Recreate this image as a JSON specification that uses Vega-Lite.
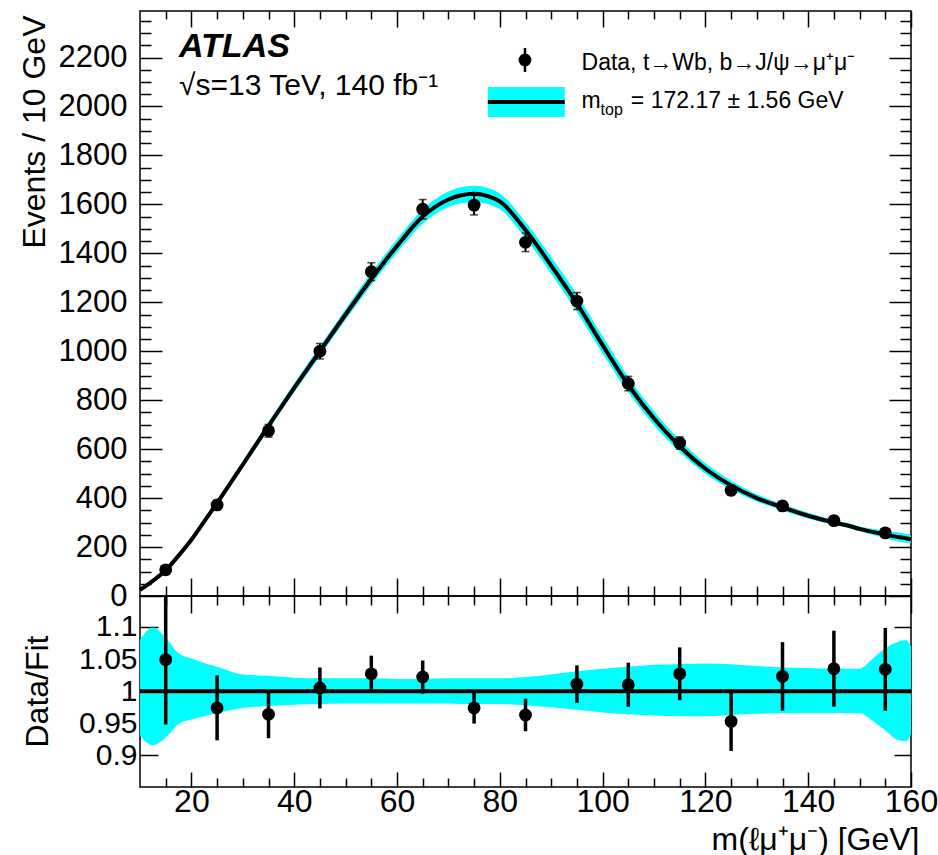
{
  "$schema": "https://vega.github.io/schema/vega-lite/v6.json",
  "padding": {"left": 17, "top": 4, "right": 5, "bottom": 12},
  "background": "white",
  "spacing": 0,
  "bounds": "flush",
  "config": {
    "font": "Liberation Sans",
    "view": {"stroke": "black", "strokeWidth": 1.5},
    "axis": {
      "labelFont": "Liberation Sans", "labelFontSize": 32, "labelColor": "black",
      "titleFont": "Liberation Sans", "titleFontSize": 32, "titleFontWeight": "normal", "titleColor": "black",
      "tickColor": "black", "tickWidth": 1.5, "domain": false, "grid": false,
      "labelFlush": false, "labelOverlap": false, "labelBound": false
    }
  },
  "datasets": {
    "pts": [
      {"x": 15, "n": 107, "nlo": 96.7, "nhi": 117.3, "r": 1.049, "elo": 0.948, "ehi": 1.150},
      {"x": 25, "n": 372, "nlo": 352.7, "nhi": 391.3, "r": 0.974, "elo": 0.9235, "ehi": 1.0245},
      {"x": 35, "n": 675, "nlo": 649, "nhi": 701, "r": 0.964, "elo": 0.9269, "ehi": 1.0011},
      {"x": 45, "n": 1000, "nlo": 968.4, "nhi": 1031.6, "r": 1.005, "elo": 0.9732, "ehi": 1.0368},
      {"x": 55, "n": 1325, "nlo": 1288.6, "nhi": 1361.4, "r": 1.027, "elo": 0.9988, "ehi": 1.0552},
      {"x": 65, "n": 1580, "nlo": 1540.3, "nhi": 1619.7, "r": 1.022, "elo": 0.9963, "ehi": 1.0477},
      {"x": 75, "n": 1597, "nlo": 1557, "nhi": 1637, "r": 0.974, "elo": 0.9496, "ehi": 0.9984},
      {"x": 85, "n": 1445, "nlo": 1407, "nhi": 1483, "r": 0.963, "elo": 0.9377, "ehi": 0.9883},
      {"x": 95, "n": 1205, "nlo": 1170.3, "nhi": 1239.7, "r": 1.011, "elo": 0.9819, "ehi": 1.0401},
      {"x": 105, "n": 868, "nlo": 838.5, "nhi": 897.5, "r": 1.010, "elo": 0.9757, "ehi": 1.0443},
      {"x": 115, "n": 625, "nlo": 600, "nhi": 650, "r": 1.027, "elo": 0.9859, "ehi": 1.0681},
      {"x": 125, "n": 432, "nlo": 411.2, "nhi": 452.8, "r": 0.953, "elo": 0.9071, "ehi": 0.9989},
      {"x": 135, "n": 368, "nlo": 348.8, "nhi": 387.2, "r": 1.023, "elo": 0.9697, "ehi": 1.0763},
      {"x": 145, "n": 308, "nlo": 290.5, "nhi": 325.5, "r": 1.035, "elo": 0.976, "ehi": 1.094},
      {"x": 155, "n": 258, "nlo": 241.9, "nhi": 274.1, "r": 1.034, "elo": 0.9696, "ehi": 1.0984}
    ],
    "fit": [
      {"x": 10, "fit": 25, "flo": 23.3, "fhi": 27.0, "blo": 0.931, "bhi": 1.080},
      {"x": 12.5, "fit": 62, "flo": 56.8, "fhi": 68.1, "blo": 0.916, "bhi": 1.099},
      {"x": 15, "fit": 105, "flo": 97.4, "fhi": 113.7, "blo": 0.928, "bhi": 1.083},
      {"x": 17.5, "fit": 165, "flo": 156.6, "fhi": 174.7, "blo": 0.949, "bhi": 1.059},
      {"x": 20, "fit": 230, "flo": 219.9, "fhi": 241.7, "blo": 0.956, "bhi": 1.051},
      {"x": 22.5, "fit": 305, "flo": 293.1, "fhi": 318.4, "blo": 0.961, "bhi": 1.044},
      {"x": 25, "fit": 380, "flo": 367.1, "fhi": 394.4, "blo": 0.966, "bhi": 1.038},
      {"x": 30, "fit": 537, "flo": 523.0, "fhi": 551.0, "blo": 0.974, "bhi": 1.026},
      {"x": 35, "fit": 695, "flo": 679.0, "fhi": 711.7, "blo": 0.977, "bhi": 1.024},
      {"x": 40, "fit": 850, "flo": 832.2, "fhi": 867.9, "blo": 0.979, "bhi": 1.021},
      {"x": 45, "fit": 1000, "flo": 980, "fhi": 1020, "blo": 0.980, "bhi": 1.020},
      {"x": 50, "fit": 1150, "flo": 1128.2, "fhi": 1173.0, "blo": 0.981, "bhi": 1.020},
      {"x": 55, "fit": 1295, "flo": 1270.4, "fhi": 1320.9, "blo": 0.981, "bhi": 1.020},
      {"x": 60, "fit": 1430, "flo": 1402.8, "fhi": 1457.2, "blo": 0.981, "bhi": 1.019},
      {"x": 65, "fit": 1550, "flo": 1520.6, "fhi": 1579.5, "blo": 0.981, "bhi": 1.019},
      {"x": 70, "fit": 1620, "flo": 1589.2, "fhi": 1652.4, "blo": 0.981, "bhi": 1.020},
      {"x": 72.5, "fit": 1637, "flo": 1604.3, "fhi": 1669.7, "blo": 0.980, "bhi": 1.020},
      {"x": 75, "fit": 1643, "flo": 1610.1, "fhi": 1675.9, "blo": 0.980, "bhi": 1.020},
      {"x": 77.5, "fit": 1635, "flo": 1602.3, "fhi": 1667.7, "blo": 0.980, "bhi": 1.020},
      {"x": 80, "fit": 1612, "flo": 1579.8, "fhi": 1644.2, "blo": 0.980, "bhi": 1.020},
      {"x": 85, "fit": 1495, "flo": 1462.1, "fhi": 1527.9, "blo": 0.978, "bhi": 1.022},
      {"x": 90, "fit": 1350, "flo": 1316.3, "fhi": 1385.1, "blo": 0.975, "bhi": 1.026},
      {"x": 95, "fit": 1195, "flo": 1160.3, "fhi": 1232.0, "blo": 0.971, "bhi": 1.031},
      {"x": 100, "fit": 1025, "flo": 991.2, "fhi": 1060.9, "blo": 0.967, "bhi": 1.035},
      {"x": 105, "fit": 862, "flo": 831.0, "fhi": 894.8, "blo": 0.964, "bhi": 1.038},
      {"x": 110, "fit": 725, "flo": 697.5, "fhi": 754.7, "blo": 0.962, "bhi": 1.041},
      {"x": 115, "fit": 612, "flo": 588.1, "fhi": 637.7, "blo": 0.961, "bhi": 1.042},
      {"x": 120, "fit": 520, "flo": 499.7, "fhi": 542.4, "blo": 0.961, "bhi": 1.043},
      {"x": 125, "fit": 452, "flo": 435.3, "fhi": 471.0, "blo": 0.963, "bhi": 1.042},
      {"x": 130, "fit": 400, "flo": 386.0, "fhi": 415.6, "blo": 0.965, "bhi": 1.039},
      {"x": 135, "fit": 362, "flo": 349.7, "fhi": 375.4, "blo": 0.966, "bhi": 1.037},
      {"x": 140, "fit": 328, "flo": 316.8, "fhi": 339.8, "blo": 0.966, "bhi": 1.036},
      {"x": 145, "fit": 300, "flo": 289.8, "fhi": 310.5, "blo": 0.966, "bhi": 1.035},
      {"x": 148, "fit": 286, "flo": 276.3, "fhi": 296.0, "blo": 0.966, "bhi": 1.035},
      {"x": 150, "fit": 274, "flo": 264.7, "fhi": 283.6, "blo": 0.966, "bhi": 1.035},
      {"x": 152.5, "fit": 262, "flo": 249.9, "fhi": 275.1, "blo": 0.954, "bhi": 1.050},
      {"x": 155, "fit": 251, "flo": 235.7, "fhi": 267.8, "blo": 0.939, "bhi": 1.067},
      {"x": 157.5, "fit": 241, "flo": 222.7, "fhi": 259.6, "blo": 0.924, "bhi": 1.077},
      {"x": 159, "fit": 236, "flo": 217.6, "fhi": 254.6, "blo": 0.922, "bhi": 1.079},
      {"x": 160, "fit": 232, "flo": 216.5, "fhi": 248.2, "blo": 0.933, "bhi": 1.070}
    ]
  },
  "vconcat": [
    {
      "width": 771,
      "height": 585,
      "resolve": {"axis": {"x": "independent", "y": "independent"}},
      "layer": [
        {
          "data": {"name": "fit"},
          "mark": {"type": "area", "color": "#00ffff", "opacity": 1, "interpolate": "monotone"},
          "encoding": {
            "x": {"field": "x", "type": "quantitative", "scale": {"domain": [10, 160], "nice": false, "zero": false},
              "axis": {"orient": "bottom", "labels": false, "title": null,
                "values": [15,20,25,30,35,40,45,50,55,60,65,70,75,80,85,90,95,100,105,110,115,120,125,130,135,140,145,150,155,160],
                "tickSize": {"condition": {"test": "datum.value % 20 === 0", "value": -18}, "value": -10}}},
            "y": {"field": "flo", "type": "quantitative", "scale": {"domain": [0, 2390], "nice": false, "zero": false},
              "axis": {"orient": "left",
                "values": [0,50,100,150,200,250,300,350,400,450,500,550,600,650,700,750,800,850,900,950,1000,1050,1100,1150,1200,1250,1300,1350,1400,1450,1500,1550,1600,1650,1700,1750,1800,1850,1900,1950,2000,2050,2100,2150,2200,2250,2300,2350],
                "labelExpr": "datum.value % 200 === 0 ? '' + datum.value : ''",
                "labelPadding": 35, "labelFontSize": 31,
                "tickSize": {"condition": {"test": "datum.value % 200 === 0", "value": -22}, "value": -11},
                "title": "Events / 10 GeV", "titleAngle": 270, "titleAlign": "right", "titleBaseline": "alphabetic",
                "titleX": -96, "titleY": 4}},
            "y2": {"field": "fhi"}
          }
        },
        {
          "data": {"name": "fit"},
          "mark": {"type": "line", "color": "black", "strokeWidth": 4, "interpolate": "monotone"},
          "encoding": {
            "x": {"field": "x", "type": "quantitative",
              "axis": {"orient": "top", "labels": false, "title": null,
                "values": [15,20,25,30,35,40,45,50,55,60,65,70,75,80,85,90,95,100,105,110,115,120,125,130,135,140,145,150,155,160],
                "tickSize": {"condition": {"test": "datum.value % 20 === 0", "value": -16}, "value": -8}}},
            "y": {"field": "fit", "type": "quantitative",
              "axis": {"orient": "right", "labels": false, "title": null,
                "values": [0,50,100,150,200,250,300,350,400,450,500,550,600,650,700,750,800,850,900,950,1000,1050,1100,1150,1200,1250,1300,1350,1400,1450,1500,1550,1600,1650,1700,1750,1800,1850,1900,1950,2000,2050,2100,2150,2200,2250,2300,2350],
                "tickSize": {"condition": {"test": "datum.value % 200 === 0", "value": -22}, "value": -11}}}
          }
        },
        {
          "data": {"name": "pts"},
          "mark": {"type": "errorbar", "color": "black", "thickness": 2, "ticks": {"size": 8, "color": "black", "thickness": 1.5}},
          "encoding": {
            "x": {"field": "x", "type": "quantitative", "axis": null},
            "y": {"field": "nlo", "type": "quantitative", "axis": null},
            "y2": {"field": "nhi"}
          }
        },
        {
          "data": {"name": "pts"},
          "mark": {"type": "point", "shape": "circle", "filled": true, "size": 165, "color": "black", "opacity": 1},
          "encoding": {
            "x": {"field": "x", "type": "quantitative", "axis": null},
            "y": {"field": "n", "type": "quantitative", "axis": null}
          }
        },
        {
          "data": {"values": [{}]},
          "mark": {"type": "text", "text": "ATLAS", "font": "Liberation Sans", "fontSize": 34, "fontWeight": "bold", "fontStyle": "italic", "align": "left", "baseline": "alphabetic", "color": "black"},
          "encoding": {
            "x": {"datum": 17.6, "type": "quantitative", "axis": null},
            "y": {"datum": 2202, "type": "quantitative", "axis": null}
          }
        },
        {
          "data": {"values": [{}]},
          "mark": {"type": "text", "text": "√s=13 TeV, 140 fb⁻¹", "font": "Liberation Sans", "fontSize": 30, "align": "left", "baseline": "alphabetic", "color": "black"},
          "encoding": {
            "x": {"datum": 17.6, "type": "quantitative", "axis": null},
            "y": {"datum": 2048, "type": "quantitative", "axis": null}
          }
        },
        {
          "data": {"values": [{}]},
          "mark": {"type": "rule", "color": "black", "strokeWidth": 2.5},
          "encoding": {
            "x": {"datum": 84.9, "type": "quantitative", "axis": null},
            "y": {"datum": 2141, "type": "quantitative", "axis": null},
            "y2": {"datum": 2239}
          }
        },
        {
          "data": {"values": [{}]},
          "mark": {"type": "point", "shape": "circle", "filled": true, "size": 165, "color": "black", "opacity": 1},
          "encoding": {
            "x": {"datum": 84.9, "type": "quantitative", "axis": null},
            "y": {"datum": 2190, "type": "quantitative", "axis": null}
          }
        },
        {
          "data": {"values": [{}]},
          "mark": {"type": "rect", "color": "#00ffff", "opacity": 1},
          "encoding": {
            "x": {"datum": 77.67, "type": "quantitative", "axis": null},
            "x2": {"datum": 92.64},
            "y": {"datum": 1957, "type": "quantitative", "axis": null},
            "y2": {"datum": 2079}
          }
        },
        {
          "data": {"values": [{}]},
          "mark": {"type": "rule", "color": "black", "strokeWidth": 4},
          "encoding": {
            "x": {"datum": 77.67, "type": "quantitative", "axis": null},
            "x2": {"datum": 92.64},
            "y": {"datum": 2018, "type": "quantitative", "axis": null}
          }
        },
        {
          "data": {"values": [{}]},
          "mark": {"type": "text", "text": "Data, t→Wb, b→J/ψ→μ⁺μ⁻", "font": "Liberation Sans", "fontSize": 23, "align": "left", "baseline": "alphabetic", "color": "black"},
          "encoding": {
            "x": {"datum": 95.9, "type": "quantitative", "axis": null},
            "y": {"datum": 2151, "type": "quantitative", "axis": null}
          }
        },
        {
          "data": {"values": [{}]},
          "mark": {"type": "text", "text": "m", "font": "Liberation Sans", "fontSize": 23, "align": "left", "baseline": "alphabetic", "color": "black"},
          "encoding": {
            "x": {"datum": 95.9, "type": "quantitative", "axis": null},
            "y": {"datum": 1993, "type": "quantitative", "axis": null}
          }
        },
        {
          "data": {"values": [{}]},
          "mark": {"type": "text", "text": "top", "font": "Liberation Sans", "fontSize": 16, "align": "left", "baseline": "alphabetic", "color": "black"},
          "encoding": {
            "x": {"datum": 99.6, "type": "quantitative", "axis": null},
            "y": {"datum": 1965, "type": "quantitative", "axis": null}
          }
        },
        {
          "data": {"values": [{}]},
          "mark": {"type": "text", "text": "= 172.17 ± 1.56 GeV", "font": "Liberation Sans", "fontSize": 23, "align": "left", "baseline": "alphabetic", "color": "black"},
          "encoding": {
            "x": {"datum": 105.5, "type": "quantitative", "axis": null},
            "y": {"datum": 1993, "type": "quantitative", "axis": null}
          }
        }
      ]
    },
    {
      "width": 771,
      "height": 191,
      "resolve": {"axis": {"x": "independent", "y": "independent"}},
      "layer": [
        {
          "data": {"name": "fit"},
          "mark": {"type": "area", "color": "#00ffff", "opacity": 1, "interpolate": "monotone"},
          "encoding": {
            "x": {"field": "x", "type": "quantitative", "scale": {"domain": [10, 160], "nice": false, "zero": false},
              "axis": {"orient": "bottom",
                "values": [15,20,25,30,35,40,45,50,55,60,65,70,75,80,85,90,95,100,105,110,115,120,125,130,135,140,145,150,155,160],
                "labelExpr": "datum.value % 20 === 0 ? '' + datum.value : ''",
                "labelPadding": 14,
                "tickSize": {"condition": {"test": "datum.value % 20 === 0", "value": -15}, "value": -9},
                "title": "m(ℓμ⁺μ⁻) [GeV]", "titleAlign": "right", "titleBaseline": "alphabetic",
                "titleX": 779, "titleY": 62}},
            "y": {"field": "blo", "type": "quantitative", "scale": {"domain": [0.851, 1.148], "nice": false, "zero": false},
              "axis": {"orient": "left", "values": [0.9, 0.95, 1, 1.05, 1.1],
                "labelExpr": "'' + datum.value", "labelPadding": 21, "tickSize": -18, "labelFontSize": 30,
                "title": "Data/Fit", "titleAngle": 270, "titleAlign": "center", "titleBaseline": "alphabetic",
                "titleX": -93, "titleY": 95}},
            "y2": {"field": "bhi"}
          }
        },
        {
          "data": {"values": [{}]},
          "mark": {"type": "rule", "color": "black", "strokeWidth": 4},
          "encoding": {
            "y": {"datum": 1, "type": "quantitative",
              "axis": {"orient": "right", "values": [0.9, 0.95, 1, 1.05, 1.1], "labels": false, "title": null, "tickSize": -17}}
          }
        },
        {
          "data": {"name": "pts"},
          "mark": {"type": "rule", "color": "black", "strokeWidth": 3.5, "clip": true},
          "encoding": {
            "x": {"field": "x", "type": "quantitative",
              "axis": {"orient": "top", "labels": false, "title": null,
                "values": [15,20,25,30,35,40,45,50,55,60,65,70,75,80,85,90,95,100,105,110,115,120,125,130,135,140,145,150,155,160],
                "tickSize": {"condition": {"test": "datum.value % 20 === 0", "value": -17}, "value": -9}}},
            "y": {"field": "elo", "type": "quantitative", "axis": null},
            "y2": {"field": "ehi"}
          }
        },
        {
          "data": {"name": "pts"},
          "mark": {"type": "point", "shape": "circle", "filled": true, "size": 165, "color": "black", "opacity": 1},
          "encoding": {
            "x": {"field": "x", "type": "quantitative", "axis": null},
            "y": {"field": "r", "type": "quantitative", "axis": null}
          }
        }
      ]
    }
  ]
}
